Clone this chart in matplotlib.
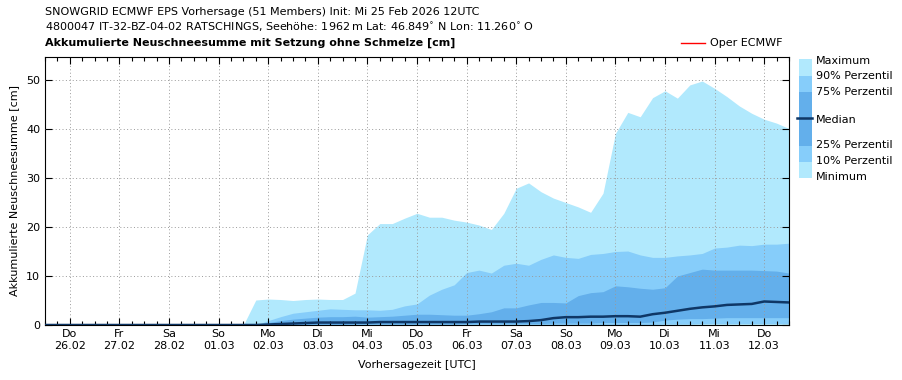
import numpy as np
import pandas as pd
import matplotlib
matplotlib.use("Agg")
import matplotlib.pyplot as plt
import matplotlib.dates as mdates
from matplotlib.patches import Rectangle
from matplotlib.lines import Line2D

# 6-hourly forecast steps from init 25.02.2026 12UTC
times = pd.date_range("2026-02-25 12:00", periods=61, freq="6h")

v_min = [0, 0, 0, 0, 0, 0, 0, 0, 0, 0, 0, 0, 0, 0, 0, 0, 0, 0, 0, 0,
         0, 0, 0, 0, 0, 0, 0, 0, 0, 0, 0, 0, 0, 0, 0, 0, 0, 0, 0, 0,
         0, 0, 0, 0, 0, 0, 0, 0, 0, 0, 0, 0, 0, 0, 0, 0, 0, 0, 0, 0, 0]
v_p10 = [0, 0, 0, 0, 0, 0, 0, 0, 0, 0, 0, 0, 0, 0, 0, 0, 0, 0, 0, 0,
         0, 0, 0, 0, 0, 0, 0, 0, 0, 0, 0, 0, 0, 0, 0, 0, 0, 0, 0, 0,
         0, 0, 0, 0, 0, 0, 0, 0, 0.1, 0.1, 0.2, 0.2, 0.2, 0.3, 0.3, 0.3,
         0.3, 0.3, 0.3, 0.3, 0.3]
v_p25 = [0, 0, 0, 0, 0, 0, 0, 0, 0, 0, 0, 0, 0, 0, 0, 0, 0, 0, 0, 0,
         0, 0, 0.1, 0.1, 0.1, 0.2, 0.2, 0.2, 0.2, 0.2, 0.2, 0.2, 0.2, 0.2,
         0.3, 0.3, 0.3, 0.3, 0.3, 0.3, 0.3, 0.4, 0.4, 0.4, 0.4, 0.5,
         0.5, 0.5, 0.5, 0.6, 1.0, 1.2, 1.3, 1.3, 1.4, 1.5,
         1.5, 1.5, 1.5, 1.5, 1.5]
v_med = [0, 0, 0, 0, 0, 0, 0, 0, 0, 0, 0, 0, 0, 0, 0, 0, 0, 0,
         0.1, 0.2, 0.3, 0.4, 0.5, 0.5, 0.5, 0.5,
         0.5, 0.6, 0.6, 0.6, 0.6, 0.6, 0.6, 0.6, 0.6, 0.7,
         0.7, 0.7, 0.7, 0.8, 1.0, 1.4, 1.6, 1.6, 1.7, 1.7,
         1.8, 1.8, 1.7, 2.2, 2.5, 2.9, 3.3, 3.6, 3.8, 4.1,
         4.2, 4.3, 4.8, 4.7, 4.6]
v_p75 = [0, 0, 0, 0, 0, 0, 0, 0, 0, 0, 0, 0, 0, 0, 0, 0, 0, 0,
         0.5, 0.9, 1.2, 1.4, 1.6, 1.7, 1.7, 1.8,
         1.6, 1.7, 1.8, 2.0, 2.2, 2.2, 2.1, 2.0, 2.0, 2.3,
         2.7, 3.5, 3.5, 4.1, 4.6, 4.6, 4.5, 6.0, 6.6, 6.8,
         8.0, 7.8, 7.5, 7.3, 7.6, 10.0, 10.7, 11.4, 11.2, 11.2,
         11.2, 11.2, 11.1, 11.0, 10.6]
v_p90 = [0, 0, 0, 0, 0, 0, 0, 0, 0, 0, 0, 0, 0, 0, 0, 0, 0, 0,
         0.9, 1.7, 2.4, 2.7, 3.0, 3.3, 3.2, 3.1,
         3.1, 3.0, 3.2, 3.9, 4.3, 6.1, 7.3, 8.2, 10.7, 11.2,
         10.6, 12.2, 12.6, 12.2, 13.4, 14.3, 13.8, 13.6, 14.4, 14.6,
         15.0, 15.1, 14.3, 13.8, 13.8, 14.1, 14.3, 14.6, 15.7, 15.9,
         16.3, 16.2, 16.5, 16.5, 16.7]
v_max = [0, 0, 0, 0, 0, 0, 0, 0, 0, 0, 0, 0, 0, 0, 0, 0, 0,
         5.1, 5.3, 5.2, 5.0, 5.2, 5.3, 5.2, 5.2, 6.5,
         18.4, 20.7, 20.7, 21.8, 22.8, 22.0, 22.0, 21.4, 21.0, 20.4,
         19.5, 22.8, 27.9, 29.0, 27.2, 25.9, 25.0, 24.1, 23.0, 26.9,
         39.1, 43.4, 42.5, 46.4, 47.8, 46.3, 49.0, 49.8, 48.3, 46.6,
         44.7, 43.2, 42.0, 41.2, 40.1]

weekdays = ["Mo", "Di", "Mi", "Do", "Fr", "Sa", "So"]
legend_labels = ["Maximum", "90% Perzentil", "75% Perzentil", "Median",
                 "25% Perzentil", "10% Perzentil", "Minimum"]

c_light = "#b1e9fd"
c_mid = "#86cdfa"
c_dark = "#63afeb"
c_med = "#0f3766"

fig = plt.figure(figsize=(9.03, 3.8), dpi=100)
ax = fig.add_axes([45 / 903, 55 / 380, 744 / 903, 268 / 380])

ax.fill_between(times, v_min, v_max, color=c_light, lw=0)
ax.fill_between(times, v_p10, v_p90, color=c_mid, lw=0)
ax.fill_between(times, v_p25, v_p75, color=c_dark, lw=0)
ax.plot(times, v_med, color=c_med, lw=1.8, zorder=3)

ax.set_xlim(times[0], times[-1])
ax.set_ylim(0, 54.7)
ax.set_yticks([0, 10, 20, 30, 40, 50])

ax.xaxis.set_major_locator(mdates.DayLocator())
ax.xaxis.set_minor_locator(mdates.HourLocator(byhour=[6, 12, 18]))
ax.xaxis.set_major_formatter(plt.FuncFormatter(
    lambda x, pos: weekdays[mdates.num2date(x).weekday()] + "\n" +
    mdates.num2date(x).strftime("%d.%m")))

ax.tick_params(which="both", direction="in", top=True, right=True, labelsize=8)
ax.tick_params(which="major", length=5, width=0.8)
ax.tick_params(which="minor", length=3, width=0.8)
ax.tick_params(axis="x", which="major", pad=3)
ax.grid(True, which="major", color="#9a9a9a", linestyle=(0, (1, 2.5)), lw=0.7)
ax.set_axisbelow(False)
for sp in ax.spines.values():
    sp.set_linewidth(0.8)

ax.set_xlabel("Vorhersagezeit [UTC]", fontsize=8, labelpad=7)
ax.set_ylabel("Akkumulierte Neuschneesumme [cm]", fontsize=8, labelpad=5)

fig.text(45 / 903, 1 - 12 / 380,
         "SNOWGRID ECMWF EPS Vorhersage (51 Members) Init: Mi 25 Feb 2026 12UTC",
         fontsize=8, va="center")
fig.text(45 / 903, 1 - 27 / 380,
         "4800047 IT-32-BZ-04-02 RATSCHINGS, Seehöhe: 1962$\\,$m Lat: 46.849$^{\\circ}$ N Lon: 11.260$^{\\circ}$ O",
         fontsize=8, va="center")
fig.text(45 / 903, 1 - 43 / 380,
         "Akkumulierte Neuschneesumme mit Setzung ohne Schmelze [cm]",
         fontsize=8, va="center", fontweight="bold")

# Oper ECMWF legend entry
fig.add_artist(Line2D([681 / 903, 705 / 903], [1 - 43 / 380, 1 - 43 / 380],
                      color="red", lw=1))
fig.text(710 / 903, 1 - 43 / 380, "Oper ECMWF", fontsize=8, va="center")

# percentile colour legend on the right
bands = [(59, 76, c_light), (76, 92, c_mid), (92, 146, c_dark),
         (146, 162, c_mid), (162, 178, c_light)]
for y0, y1, col in bands:
    fig.add_artist(Rectangle((799 / 903, 1 - y1 / 380), 13 / 903, (y1 - y0) / 380,
                             color=col, lw=0, transform=fig.transFigure))
fig.add_artist(Line2D([797 / 903, 812 / 903], [1 - 118 / 380, 1 - 118 / 380],
                      color=c_med, lw=1.8))
label_y = [61, 76, 92, 120, 145, 161, 177]
for lab, yy in zip(legend_labels, label_y):
    fig.text(816 / 903, 1 - yy / 380, lab, fontsize=8, va="center")

fig.savefig("out.png", dpi=100)
